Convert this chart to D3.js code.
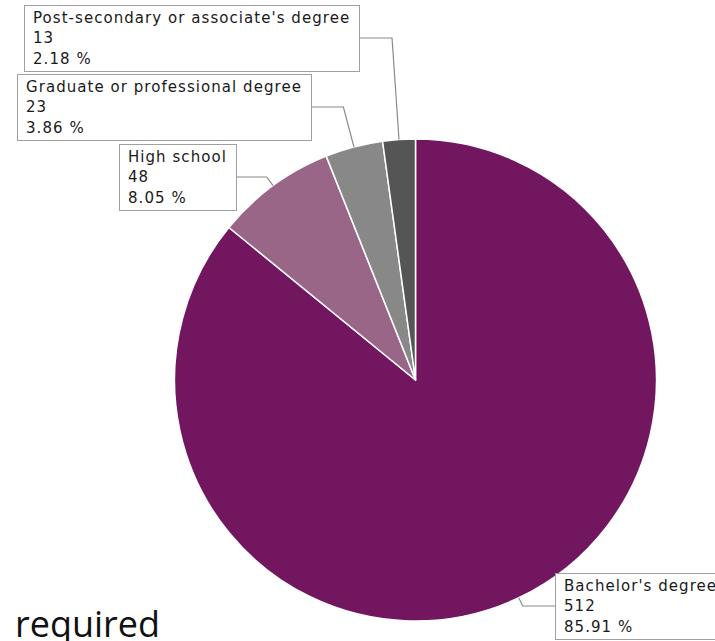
<!DOCTYPE html>
<html>
<head>
<meta charset="utf-8">
<script src="https://cdn.jsdelivr.net/npm/d3@7"></script>
<style>
  html, body { margin: 0; padding: 0; background: #fff; overflow: hidden; }
  svg { display: block; }
</style>
</head>
<body>
<svg id="chart" width="715" height="641"></svg>
<script>
// Education level of respondents
const categories = ["Bachelor's degree", "High school", "Graduate or professional degree", "Post-secondary or associate's degree"];
const counts = [512, 48, 23, 13];
const colors = ["#721660", "#996688", "#888888", "#555555"];
// label box anchor (left, top) for each slice
const labelBoxes = [[555, 573], [119, 144], [17, 74], [24, 5]];

const W = 715, H = 641;
const cx = 415.5, cy = 380, R = 241;
const boxH = 66, padX = 9, lineGap = 20.7, firstBase = 17.7;

const svg = d3.select("#chart");
const total = d3.sum(counts);

const pie = d3.pie().sort(null).value(d => d.value).startAngle(0).endAngle(2 * Math.PI);
const data = categories.map((c, i) => ({ name: c, value: counts[i], color: colors[i], box: labelBoxes[i] }));
const arcs = pie(data);
const arcGen = d3.arc().innerRadius(0).outerRadius(R);

const g = svg.append("g").attr("transform", `translate(${cx},${cy})`);
g.selectAll("path.slice")
  .data(arcs)
  .join("path")
  .attr("class", "slice")
  .attr("d", arcGen)
  .attr("fill", d => d.data.color)
  .attr("stroke", "#ffffff")
  .attr("stroke-width", 1.5)
  .attr("stroke-linejoin", "round");

// leader lines + label boxes
const fmtPct = v => (v / total * 100).toFixed(2) + " %";
const labels = svg.append("g");

arcs.forEach(a => {
  const mid = (a.startAngle + a.endAngle) / 2;
  const ux = Math.sin(mid), uy = -Math.cos(mid);
  const px = cx + R * ux, py = cy + R * uy;
  const [bx, by] = a.data.box;
  const midY = by + boxH / 2;

  const grp = labels.append("g");
  const rect = grp.append("rect")
    .attr("x", bx + 0.5).attr("y", by + 0.5)
    .attr("height", boxH)
    .attr("fill", "#ffffff")
    .attr("stroke", "#a0a0a0")
    .attr("stroke-width", 1);

  const lines = [a.data.name, String(a.data.value), fmtPct(a.data.value)];
  const text = grp.append("text")
    .attr("font-family", "'DejaVu Sans', Verdana, sans-serif")
    .attr("font-size", 15)
    .attr("letter-spacing", 1.05)
    .attr("fill", "#1a1a1a");
  lines.forEach((t, i) => {
    text.append("tspan").attr("x", bx + padX).attr("y", by + firstBase + i * lineGap).text(t);
  });
  const tw = text.node().getBBox().width;
  const bw = Math.round(tw + padX * 2);
  rect.attr("width", bw);

  // radial segment from the slice edge to the box's mid line, then horizontal to the box
  const t = (midY - py) / uy;
  const ex = px + ux * t;
  const edgeX = ex < bx ? bx : bx + bw;
  labels.insert("path", ":first-child")
    .attr("d", d3.line()([[px, py], [ex, midY], [edgeX, midY]]))
    .attr("fill", "none")
    .attr("stroke", "#8a8a8a")
    .attr("stroke-width", 1.2);
});

// footer caption
svg.append("text")
  .attr("x", 15).attr("y", 637)
  .attr("font-family", "'Open Sans', 'Noto Sans', sans-serif")
  .attr("font-size", 36)
  .attr("fill", "#111")
  .text("required");
</script>
</body>
</html>
